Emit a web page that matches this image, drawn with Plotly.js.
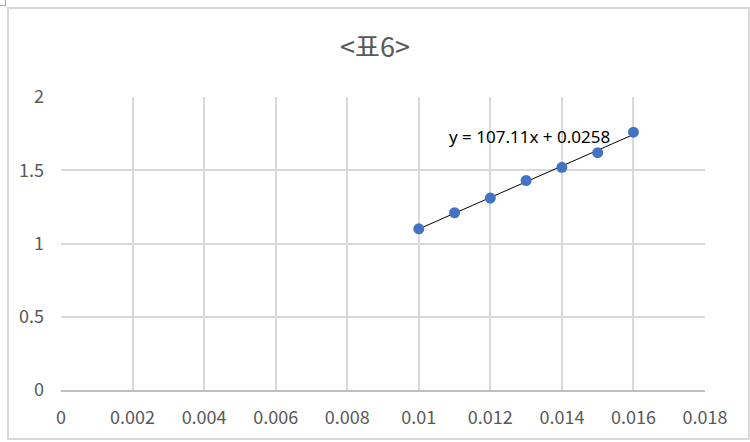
<!DOCTYPE html>
<html>
<head>
<meta charset="utf-8">
<script src="https://cdn.plot.ly/plotly-3.0.1.min.js"></script>
<style>
html,body{margin:0;padding:0;background:#fff;}
#chart{width:750px;height:442px;position:relative;}
#frame{position:absolute;left:7px;top:7px;width:739px;height:429px;border:2px solid #d9d9d9;pointer-events:none;}
#corner{position:absolute;left:0;top:0;width:5px;height:5px;border-right:1px solid #a6a6a6;border-bottom:1px solid #a6a6a6;pointer-events:none;}
</style>
</head>
<body>
<div id="chart"></div>
<div id="frame"></div>
<div id="corner"></div>
<script>
const chartTitle = "<표6>";
const xValues = [0.010, 0.011, 0.012, 0.013, 0.014, 0.015, 0.016];
const yValues = [1.10, 1.21, 1.31, 1.43, 1.52, 1.62, 1.76];
const equationLabel = "y = 107.11x + 0.0258";
const xTicks = [0, 0.002, 0.004, 0.006, 0.008, 0.01, 0.012, 0.014, 0.016, 0.018];
const yTicks = [0, 0.5, 1, 1.5, 2];

// least-squares trendline from the data
const n = xValues.length;
const mx = xValues.reduce((a,b)=>a+b,0)/n;
const my = yValues.reduce((a,b)=>a+b,0)/n;
let sxy=0, sxx=0;
for(let i=0;i<n;i++){sxy+=(xValues[i]-mx)*(yValues[i]-my);sxx+=(xValues[i]-mx)**2;}
const slope = sxy/sxx, intercept = my - slope*mx;
const xLine = [xValues[0], xValues[n-1]];
const yLine = xLine.map(x=>slope*x+intercept);

const font = "'Noto Sans CJK KR', 'Noto Sans', sans-serif";
const traces = [
  {x: xLine, y: yLine, mode: 'lines', line:{color:'#000', width:1}, hoverinfo:'skip', showlegend:false},
  {x: xValues, y: yValues, mode: 'markers', marker:{color:'#4472C4', size:11}, showlegend:false}
];
const layout = {
  width: 750, height: 442,
  margin: {l:61, r:45, t:97, b:52},
  paper_bgcolor:'#fff', plot_bgcolor:'#fff',
  title: {text: chartTitle, x:0.5, xanchor:'center', y:0.893, yanchor:'middle',
          font:{family:font, size:27, color:'#595959'}},
  xaxis: {range:[0,0.018], tickvals:xTicks, ticktext:xTicks.map(String), showgrid:true, gridcolor:'#d9d9d9', gridwidth:2,
          zeroline:false, showline:true, linecolor:'#bfbfbf', linewidth:2, ticks:'', ticklabelstandoff:10,
          tickfont:{family:font, size:18, color:'#595959'}, fixedrange:true},
  yaxis: {range:[0,2], tickvals:yTicks, ticktext:yTicks.map(String), showgrid:true, gridcolor:'#d9d9d9', gridwidth:2,
          zeroline:false, showline:false, ticks:'', ticklabelstandoff:16,
          tickfont:{family:font, size:18, color:'#595959'}, fixedrange:true},
  annotations: [{x:0.01079, y:1.727, xref:'x', yref:'y', text:equationLabel, showarrow:false,
                 xanchor:'left', yanchor:'middle', font:{family:"'Noto Sans', sans-serif", size:17, color:'#000'}}]
};
Plotly.newPlot('chart', traces, layout, {displayModeBar:false, staticPlot:true});
</script>
</body>
</html>
